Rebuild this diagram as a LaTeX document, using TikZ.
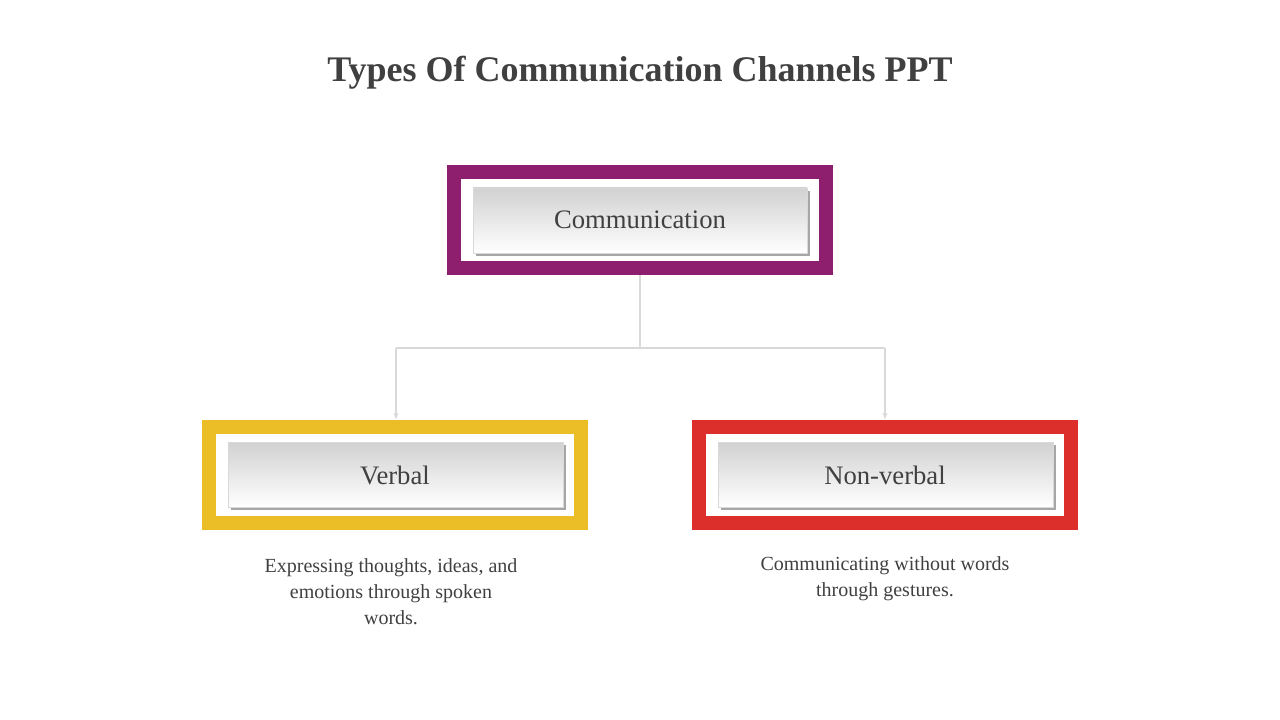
\documentclass[tikz,border=0pt]{standalone}
\usepackage{fontspec}
\setmainfont{Liberation Serif}
\usetikzlibrary{arrows.meta}
\begin{document}
\begin{tikzpicture}[x=0.75pt,y=-0.75pt,
  frame/.style={line width=10.5pt},
  inner/.style={top color=black!18,bottom color=white,draw=black!15,line width=0.4pt},
  shadowbox/.style={fill=black!35},
  lbl/.style={font=\fontsize{20}{24}\selectfont,text=black!75},
  desc/.style={font=\fontsize{15}{19.5}\selectfont,text=black!75,align=center},
  conn/.style={draw=black!15,line width=0.9pt},
  tip/.style={-{Latex[length=5pt,width=4pt]},draw=black!15,line width=0.9pt}]
\useasboundingbox (0,0) rectangle (1280,720);
\node[font=\bfseries\fontsize{27}{32}\selectfont,text=black!75] (title) at (640,73) {Types Of Communication Channels PPT};
% top
\draw[frame,draw={rgb,255:red,142;green,31;blue,110}] (454,172) rectangle (826,268);
\fill[shadowbox] (476,191) rectangle (810,256);
\shade[inner] (473,188) rectangle (807,253);
\node[lbl] (comm) at (640,220) {Communication};
% verbal
\draw[frame,draw={rgb,255:red,235;green,189;blue,38}] (209,427) rectangle (581,523);
\fill[shadowbox] (231,445) rectangle (566,510);
\shade[inner] (228,442) rectangle (563,507);
\node[lbl] (verb) at (395,475) {Verbal};
% nonverbal
\draw[frame,draw={rgb,255:red,220;green,47;blue,44}] (699,427) rectangle (1071,523);
\fill[shadowbox] (721,445) rectangle (1056,510);
\shade[inner] (718,442) rectangle (1053,507);
\node[lbl] (nonv) at (885,475) {Non-verbal};
% connectors
\coordinate (top) at (640,275);
\coordinate (mid) at (640,348);
\coordinate (l) at (396,348);
\coordinate (r) at (885,348);
\coordinate (le) at (396,420);
\coordinate (re) at (885,420);
\draw[conn] (top) -- (mid);
\draw[conn] (l) -- (r);
\draw[tip] (l) -- (le);
\draw[tip] (r) -- (re);
\node[desc] (d1) at (391,592) {Expressing thoughts, ideas, and\\emotions through spoken\\words.};
\node[desc] (d2) at (885,579) {Communicating without words\\through gestures.};
\end{tikzpicture}
\end{document}
